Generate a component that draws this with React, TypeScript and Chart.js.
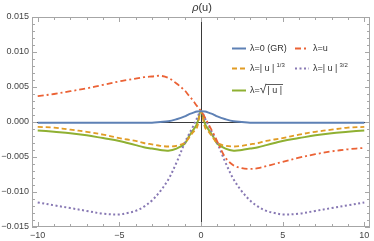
import React, { useEffect, useRef } from 'react';
import { Chart, registerables } from 'chart.js';
Chart.register(...registerables);

const xs = [-10, -9, -8, -7, -6, -5, -4.5, -4, -3.5, -3, -2.5, -2, -1.5, -1, -0.75, -0.5, -0.25, 0, 0.25, 0.5, 0.75, 1, 1.5, 2, 2.5, 3, 3.5, 4, 4.5, 5, 6, 7, 8, 9, 10];

const rhoGR = [-0.0001, -0.0001, -0.0001, -0.0001, -0.0001, -0.0001, -0.0001, -0.0001, -0.0001, -0.0001, 0.0, 0.0001, 0.0004, 0.0008, 0.0011, 0.0013, 0.0015, 0.00155, 0.0015, 0.0013, 0.0011, 0.0008, 0.0004, 0.0001, 0.0, -0.0001, -0.0001, -0.0001, -0.0001, -0.0001, -0.0001, -0.0001, -0.0001, -0.0001, -0.0001];
const rhoU = [0.0037, 0.004, 0.0044, 0.0048, 0.0053, 0.0058, 0.006, 0.0062, 0.0064, 0.0065, 0.0066, 0.0063, 0.0055, 0.0045, 0.0038, 0.0031, 0.0023, 0.00155, 0.0006, -0.0005, -0.0016, -0.0028, -0.0051, -0.0062, -0.0066, -0.0067, -0.0066, -0.0063, -0.006, -0.0057, -0.0051, -0.0046, -0.0042, -0.0039, -0.0037];
const rhoCubeRoot = [-0.0007, -0.0008, -0.0011, -0.0014, -0.0018, -0.0023, -0.0025, -0.0027, -0.003, -0.0032, -0.0034, -0.0035, -0.0034, -0.003, -0.0023, -0.0015, -0.0008, 0.00155, -0.0008, -0.0015, -0.0023, -0.003, -0.0034, -0.0035, -0.0034, -0.0032, -0.003, -0.0027, -0.0025, -0.0023, -0.0018, -0.0014, -0.0011, -0.0008, -0.0007];
const rhoThreeHalves = [-0.0115, -0.0119, -0.0123, -0.0127, -0.0131, -0.0132, -0.013, -0.0127, -0.0121, -0.0112, -0.0099, -0.0082, -0.0058, -0.003, -0.0018, -0.0007, 0.0005, 0.00155, 0.0005, -0.0007, -0.0018, -0.003, -0.0058, -0.0082, -0.0099, -0.0112, -0.0121, -0.0127, -0.013, -0.0132, -0.0131, -0.0127, -0.0123, -0.0119, -0.0115];
const rhoSqrt = [-0.0012, -0.0014, -0.0016, -0.0019, -0.0023, -0.0027, -0.003, -0.0033, -0.0036, -0.0038, -0.004, -0.0041, -0.0038, -0.0031, -0.0021, -0.0012, -0.0003, 0.00155, -0.0003, -0.0012, -0.0021, -0.0031, -0.0038, -0.0041, -0.004, -0.0038, -0.0036, -0.0033, -0.003, -0.0027, -0.0023, -0.0019, -0.0016, -0.0014, -0.0012];

const xTicks = [-10, -5, 0, 5, 10];
const xTickLabels = ['\u221210', '\u22125', '0', '5', '10'];
const yTicks = [-0.015, -0.01, -0.005, 0, 0.005, 0.01, 0.015];
const yTickLabels = ['\u22120.015', '\u22120.010', '\u22120.005', '0.000', '0.005', '0.010', '0.015'];

const seriesLabels = ['λ=0 (GR)', 'λ=u', 'λ=| u |', 'λ=| u |', 'λ=√| u |'];
const seriesSups = ['', '', '1/3', '3/2', ''];
const titleText = 'ρ(u)';

const COLORS = ['#5E81B5', '#EB6235', '#E19C24', '#8778B3', '#8FB032'];
const DASHES: number[][] = [[], [6, 3, 2, 3], [5, 3], [2, 2.5], []];
const WIDTHS = [2, 1.8, 1.8, 2, 2];
const FONT = '"Liberation Sans", Arial, sans-serif';

const toPts = (ys: number[]) => xs.map((x, i) => ({ x, y: ys[i] }));

export default function App() {
  const ref = useRef<HTMLCanvasElement>(null);
  useEffect(() => {
    document.body.style.margin = '0';
    const canvas = ref.current!;
    const series = [rhoGR, rhoU, rhoCubeRoot, rhoThreeHalves, rhoSqrt];
    const order = [0, 1, 2, 3, 4];

    const framePlugin = {
      id: 'frame',
      beforeDatasetsDraw(chart: any) {
        const { ctx, chartArea, scales } = chart;
        const { left, right, top, bottom } = chartArea;
        const sx = scales.x, sy = scales.y;
        ctx.save();
        ctx.lineWidth = 1;
        ctx.strokeStyle = '#3a3a3a';
        const x0 = Math.round(sx.getPixelForValue(0)) + 0.5;
        const y0 = Math.round(sy.getPixelForValue(0)) + 0.5;
        ctx.beginPath();
        ctx.moveTo(x0, top); ctx.lineTo(x0, bottom);
        ctx.moveTo(left, y0); ctx.lineTo(right, y0);
        ctx.stroke();
        ctx.restore();
      },
      afterDraw(chart: any) {
        const { ctx, chartArea, scales } = chart;
        const { left, right, top, bottom } = chartArea;
        const sx = scales.x, sy = scales.y;
        ctx.save();
        ctx.strokeStyle = '#a6a6a6';
        ctx.lineWidth = 1;
        ctx.strokeRect(left + 0.5, top + 0.5, right - left - 1, bottom - top - 1);
        ctx.beginPath();
        for (let v = -10; v <= 10; v++) {
          const px = Math.round(sx.getPixelForValue(v)) + 0.5;
          const len = v % 5 === 0 ? 5 : 3;
          ctx.moveTo(px, bottom); ctx.lineTo(px, bottom - len);
          ctx.moveTo(px, top); ctx.lineTo(px, top + len);
        }
        for (let k = -15; k <= 15; k++) {
          const py = Math.round(sy.getPixelForValue(k / 1000)) + 0.5;
          const len = k % 5 === 0 ? 5 : 3;
          ctx.moveTo(left, py); ctx.lineTo(left + len, py);
          ctx.moveTo(right, py); ctx.lineTo(right - len, py);
        }
        ctx.stroke();

        // title
        ctx.fillStyle = '#333';
        ctx.textBaseline = 'middle';
        ctx.font = 'italic 11px ' + FONT;
        const rho = titleText.slice(0, 1);
        const rest = titleText.slice(1);
        const w1 = ctx.measureText(rho).width;
        ctx.font = '11px ' + FONT;
        const w2 = ctx.measureText(rest).width;
        const cx = (left + right) / 2 + 1;
        ctx.font = 'italic 11px ' + FONT;
        ctx.fillText(rho, cx - (w1 + w2) / 2, 8);
        ctx.font = '11px ' + FONT;
        ctx.fillText(rest, cx - (w1 + w2) / 2 + w1, 8);

        // legend
        const pos = [
          [232, 48], [295, 48], [232, 68], [295, 68], [232, 90],
        ];
        for (let i = 0; i < 5; i++) {
          const [lx, ly] = pos[i];
          ctx.save();
          ctx.strokeStyle = COLORS[i];
          ctx.lineWidth = WIDTHS[i];
          ctx.setLineDash(DASHES[i]);
          ctx.beginPath();
          ctx.moveTo(lx, ly + 0.5);
          ctx.lineTo(lx + 14, ly + 0.5);
          ctx.stroke();
          ctx.restore();
          ctx.fillStyle = '#333';
          ctx.font = '9px ' + FONT;
          ctx.textBaseline = 'middle';
          let tx = lx + 18;
          const label = seriesLabels[i];
          const sqIdx = label.indexOf('√');
          if (sqIdx >= 0) {
            const pre = label.slice(0, sqIdx);
            const inner = label.slice(sqIdx + 1);
            ctx.fillText(pre, tx, ly + 1);
            tx += ctx.measureText(pre).width;
            ctx.font = '12px ' + FONT;
            ctx.fillText('√', tx, ly);
            tx += ctx.measureText('√').width;
            ctx.font = '9px ' + FONT;
            const iw = ctx.measureText(inner).width;
            ctx.fillText(inner, tx + 1, ly + 1);
            ctx.strokeStyle = '#333';
            ctx.lineWidth = 0.8;
            ctx.beginPath();
            ctx.moveTo(tx - 0.5, ly - 5.5);
            ctx.lineTo(tx + iw + 2, ly - 5.5);
            ctx.stroke();
          } else {
            ctx.fillText(label, tx, ly + 1);
            tx += ctx.measureText(label).width;
            if (seriesSups[i]) {
              ctx.font = '6px ' + FONT;
              ctx.fillText(seriesSups[i], tx + 2, ly - 3);
            }
          }
        }
        ctx.restore();
      },
    };

    const chart = new Chart(canvas, {
      type: 'line',
      data: {
        datasets: order.map((i) => ({
          label: seriesLabels[i],
          data: toPts(series[i]),
          borderColor: COLORS[i],
          borderWidth: WIDTHS[i],
          borderDash: DASHES[i],
          pointRadius: 0,
          fill: false,
          tension: 0.35,
        })),
      },
      options: {
        responsive: false,
        devicePixelRatio: 1,
        animation: false,
        layout: { padding: { top: 17, right: 4, left: 0, bottom: 0 } },
        plugins: { legend: { display: false }, title: { display: false }, tooltip: { enabled: false } },
        scales: {
          x: {
            type: 'linear',
            min: -10.35,
            max: 10.35,
            grid: { display: false, drawTicks: false },
            border: { display: false },
            afterBuildTicks: (s: any) => { s.ticks = xTicks.map((v) => ({ value: v })); },
            afterFit: (s: any) => { s.height = 14; },
            ticks: {
              font: { family: FONT, size: 9 },
              color: '#444',
              padding: 3,
              maxRotation: 0,
              autoSkip: false,
              callback: (_v: any, idx: number) => xTickLabels[idx],
            },
          },
          y: {
            type: 'linear',
            min: -0.015,
            max: 0.015,
            grid: { display: false, drawTicks: false },
            border: { display: false },
            afterBuildTicks: (s: any) => { s.ticks = yTicks.map((v) => ({ value: v })); },
            afterFit: (s: any) => { s.width = 32; },
            ticks: {
              font: { family: FONT, size: 9 },
              color: '#444',
              padding: 3,
              autoSkip: false,
              callback: (_v: any, idx: number) => yTickLabels[idx],
            },
          },
        },
      },
      plugins: [framePlugin],
    } as any);
    return () => chart.destroy();
  }, []);
  return (
    <div style={{ width: 374, height: 241 }}>
      <canvas ref={ref} width={374} height={241} style={{ display: 'block' }} />
    </div>
  );
}
